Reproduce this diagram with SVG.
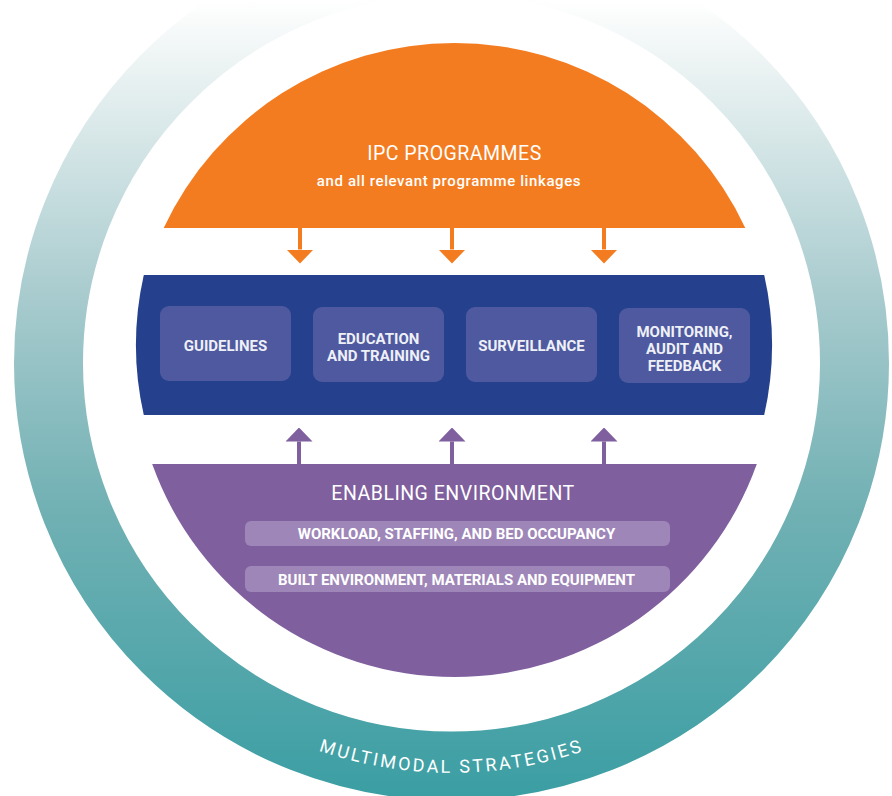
<svg xmlns="http://www.w3.org/2000/svg" width="892" height="796" viewBox="0 0 892 796">
<defs>
<linearGradient id="ringGrad" gradientUnits="userSpaceOnUse" x1="0" y1="0" x2="0" y2="800">
<stop offset="0" stop-color="#ffffff"/>
<stop offset="0.06" stop-color="#f1f6f6"/>
<stop offset="0.37" stop-color="#a8cbce"/>
<stop offset="0.63" stop-color="#72b1b4"/>
<stop offset="1" stop-color="#3a9ea3"/>
</linearGradient>
<marker id="headO" viewBox="0 0 14 27" refX="0" refY="13.5" markerWidth="14" markerHeight="27" markerUnits="userSpaceOnUse" orient="auto">
<path d="M0,0 L14,13.5 L0,27 Z" fill="#f47c20"/>
</marker>
<marker id="headP" viewBox="0 0 14 27" refX="0" refY="13.5" markerWidth="14" markerHeight="27" markerUnits="userSpaceOnUse" orient="auto">
<path d="M0,0 L14,13.5 L0,27 Z" fill="#7f5f9e"/>
</marker>
<path id="ringPath" d="M41.5,363 A410,410 0 0 0 861.5,363"/>
</defs>
<style>
.lbl{font-family:Roboto,"Liberation Sans",sans-serif;fill:#eef0f7;font-weight:bold;font-size:15px;text-anchor:middle}
.pilltxt{font-family:Roboto,"Liberation Sans",sans-serif;fill:#ffffff;font-weight:bold;font-size:15px;text-anchor:middle}
.title{font-family:Roboto,"Liberation Sans",sans-serif;fill:#ffffff;font-size:19.5px;letter-spacing:0.5px;text-anchor:middle}
.box{fill:#4f599f}
.pill{fill:#9e86b8}
.arrO{stroke:#f47c20;stroke-width:4;fill:none}
.arrP{stroke:#7f5f9e;stroke-width:4;fill:none}
</style>
<g id="ring">
<circle cx="451.5" cy="363" r="403" fill="none" stroke="url(#ringGrad)" stroke-width="69"/>
<text font-family="Roboto,'Liberation Sans',sans-serif" font-size="18" letter-spacing="2.5" fill="#ffffff"><textPath href="#ringPath" startOffset="50%" text-anchor="middle">MULTIMODAL STRATEGIES</textPath></text>
</g>
<g id="ipc">
<path d="M163.7,228 A321,321 0 0 1 745.3,228 Z" fill="#f47c20"/>
<text class="title" x="454.5" y="159.5">IPC PROGRAMMES</text>
<text x="449" y="186" font-family="Roboto,'Liberation Sans',sans-serif" font-weight="500" font-size="15" fill="#ffffff" text-anchor="middle" letter-spacing="0.6">and all relevant programme linkages</text>
</g>
<g id="core">
<path d="M143.8,275 L764.2,275 A318,318 0 0 1 764.2,415 L143.8,415 A318,318 0 0 1 143.8,275 Z" fill="#25418e"/>
</g>
<g id="guidelines">
<rect class="box" x="160" y="306" width="131" height="75" rx="9"/>
<text class="lbl" x="225.5" y="350.5">GUIDELINES</text>
</g>
<g id="education">
<rect class="box" x="313" y="307" width="131" height="75" rx="9"/>
<text class="lbl" x="378.5" y="343.5">EDUCATION</text>
<text class="lbl" x="378.5" y="361">AND TRAINING</text>
</g>
<g id="surveillance">
<rect class="box" x="466" y="307" width="131" height="75" rx="9"/>
<text class="lbl" x="531.5" y="350.5">SURVEILLANCE</text>
</g>
<g id="monitoring">
<rect class="box" x="619" y="308" width="131" height="75" rx="9"/>
<text class="lbl" x="684.5" y="336.5">MONITORING,</text>
<text class="lbl" x="684.5" y="353.5">AUDIT AND</text>
<text class="lbl" x="684.5" y="370.5">FEEDBACK</text>
</g>
<g id="enabling">
<path d="M152.2,464 L756.8,464 A321,321 0 0 1 152.2,464 Z" fill="#7f5f9e"/>
<text class="title" x="453" y="500">ENABLING ENVIRONMENT</text>
<rect class="pill" x="245" y="521" width="425" height="25" rx="6"/>
<text class="pilltxt" x="456.5" y="539">WORKLOAD, STAFFING, AND BED OCCUPANCY</text>
<rect class="pill" x="245" y="566" width="425" height="26" rx="6"/>
<text class="pilltxt" x="456.5" y="585">BUILT ENVIRONMENT, MATERIALS AND EQUIPMENT</text>
</g>
<g id="connectors">
<line class="arrO" x1="300" y1="228" x2="300" y2="249.5" marker-end="url(#headO)"/>
<line class="arrO" x1="452" y1="228" x2="452" y2="249.5" marker-end="url(#headO)"/>
<line class="arrO" x1="604" y1="228" x2="604" y2="249.5" marker-end="url(#headO)"/>
<line class="arrP" x1="299" y1="464" x2="299" y2="441.5" marker-end="url(#headP)"/>
<line class="arrP" x1="452" y1="464" x2="452" y2="441.5" marker-end="url(#headP)"/>
<line class="arrP" x1="604" y1="464" x2="604" y2="441.5" marker-end="url(#headP)"/>
</g>
</svg>
